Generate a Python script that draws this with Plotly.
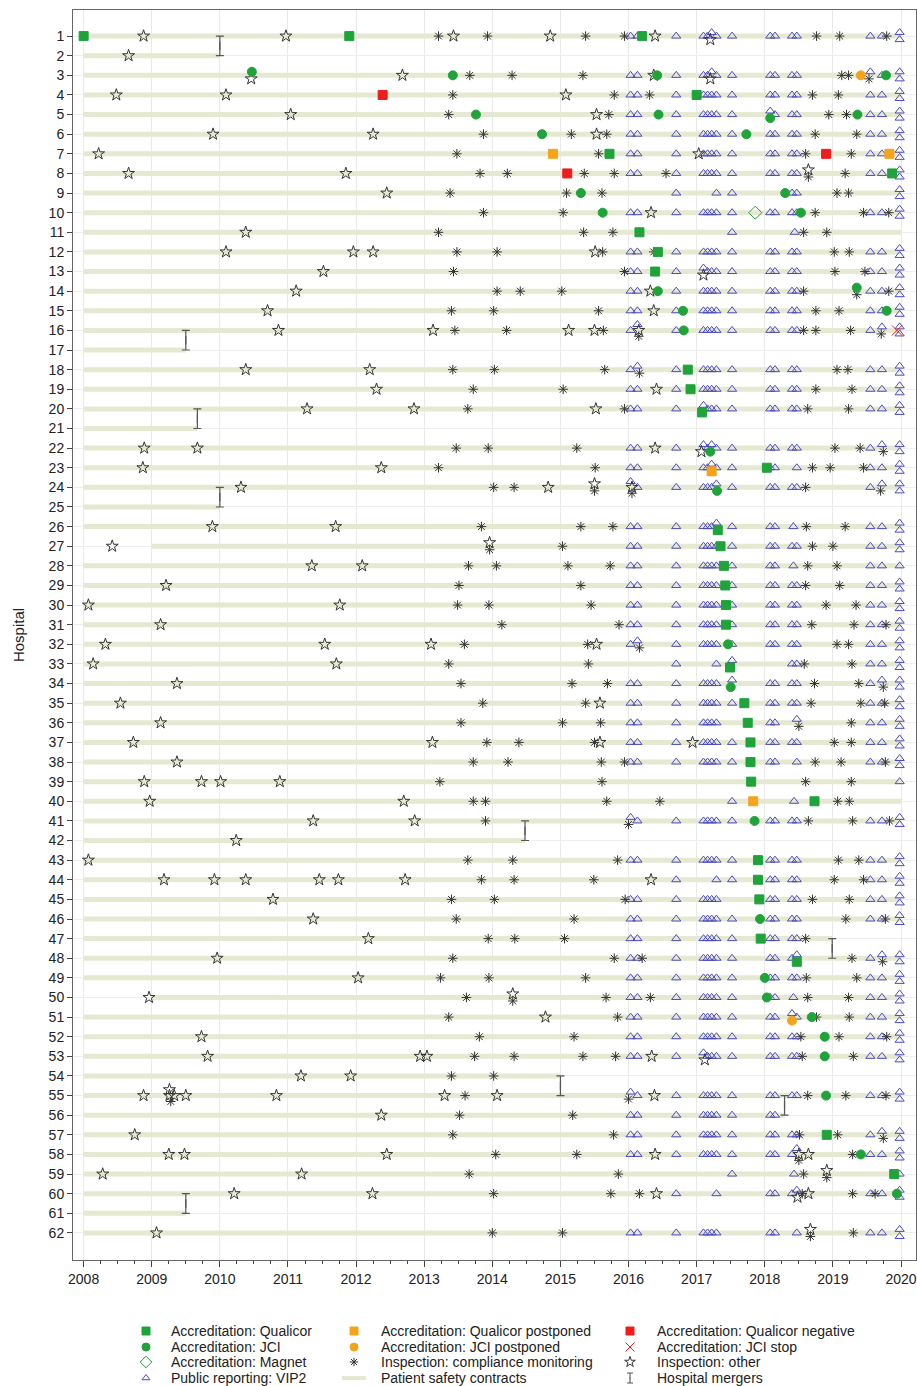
import plotly.graph_objects as go

# ---------------- data ----------------
hospitals = list(range(1, 63))
year_ticks = list(range(2008, 2021))

# accreditation events: (hospital, decimal year)
qualicor = [(1, 2008.0), (1, 2011.9), (1, 2016.2), (4, 2017.0), (7, 2015.72), (8, 2019.87),
            (11, 2016.16), (12, 2016.43), (13, 2016.39), (18, 2016.87), (19, 2016.91), (20, 2017.08),
            (23, 2018.03), (26, 2017.31), (27, 2017.35), (28, 2017.4), (29, 2017.42), (30, 2017.43),
            (31, 2017.43), (33, 2017.49), (35, 2017.7), (36, 2017.75), (37, 2017.79), (38, 2017.79),
            (39, 2017.8), (40, 2018.73), (43, 2017.9), (44, 2017.9), (45, 2017.92), (47, 2017.94),
            (48, 2018.47), (57, 2018.91), (59, 2019.9)]
qualicor_postponed = [(7, 2014.89), (7, 2019.83), (23, 2017.22), (40, 2017.83)]
qualicor_negative = [(4, 2012.39), (7, 2018.9), (8, 2015.1)]
jci = [(3, 2010.47), (3, 2013.42), (3, 2016.42), (3, 2019.78), (5, 2013.76), (5, 2016.44),
       (5, 2018.08), (5, 2019.36), (6, 2014.73), (6, 2017.73), (9, 2015.3), (9, 2018.3),
       (10, 2015.62), (10, 2018.53), (14, 2016.43), (14, 2019.35), (15, 2016.8), (15, 2019.79),
       (16, 2016.81), (22, 2017.2), (24, 2017.3), (32, 2017.46), (34, 2017.5), (41, 2017.85),
       (46, 2017.93), (49, 2018.0), (50, 2018.03), (51, 2018.69), (52, 2018.88), (53, 2018.88),
       (55, 2018.9), (58, 2019.41), (60, 2019.94)]
jci_postponed = [(3, 2019.41), (51, 2018.4)]
jci_stop = [(16, 2019.94)]
magnet = [(10, 2017.86)]

# inspections: hospital -> dates
inspection_other = [
    (1, [2008.88, 2010.97, 2013.43, 2014.85, 2016.39, 2017.2]), (2, [2008.66]),
    (3, [2010.46, 2012.68, 2016.37, 2017.2]), (4, [2008.48, 2010.09, 2015.08]),
    (5, [2011.04, 2015.53]), (6, [2009.9, 2012.25, 2015.53]), (7, [2008.22, 2017.03]),
    (8, [2008.66, 2011.85, 2018.64]), (9, [2012.45]), (10, [2016.33]), (11, [2010.38]),
    (12, [2010.09, 2011.96, 2012.25, 2015.51]), (13, [2011.52, 2017.1]), (14, [2011.12, 2016.32]),
    (15, [2010.7, 2016.37]), (16, [2010.86, 2013.13, 2015.12, 2015.5, 2016.15]),
    (18, [2010.38, 2012.2]), (19, [2012.3, 2016.41]), (20, [2011.28, 2012.85, 2015.52]),
    (22, [2008.89, 2009.67, 2016.39, 2017.07]), (23, [2008.87, 2012.37]),
    (24, [2010.31, 2014.82, 2015.5, 2016.05]), (26, [2009.89, 2011.7]), (27, [2008.42, 2013.96]),
    (28, [2011.35, 2012.09]), (29, [2009.21]), (30, [2008.07, 2011.76]), (31, [2009.13]),
    (32, [2008.32, 2011.54, 2013.1, 2015.53]), (33, [2008.14, 2011.71]), (34, [2009.37]),
    (35, [2008.54, 2015.58]), (36, [2009.13]), (37, [2008.73, 2013.12, 2015.58, 2016.94]),
    (38, [2009.37]), (39, [2008.89, 2009.73, 2010.01, 2010.88]), (40, [2008.97, 2012.7]),
    (41, [2011.37, 2012.86]), (42, [2010.24]), (43, [2008.07]),
    (44, [2009.18, 2009.92, 2010.38, 2011.46, 2011.74, 2012.72, 2016.33]), (45, [2010.78]),
    (46, [2011.37]), (47, [2012.18]), (48, [2009.96]), (49, [2012.03]), (50, [2008.96, 2014.3]),
    (51, [2014.78]), (52, [2009.73]), (53, [2009.82, 2012.94, 2013.04, 2016.34, 2017.12]),
    (54, [2011.19, 2011.92]),
    (55, [2008.88, 2009.26, 2009.26, 2009.33, 2009.5, 2010.83, 2013.3, 2014.07, 2016.38]),
    (56, [2012.37]), (57, [2008.75]), (58, [2009.25, 2009.48, 2012.45, 2016.39, 2018.5, 2018.64]),
    (59, [2008.28, 2011.2, 2018.91]), (60, [2010.21, 2012.24, 2016.41, 2018.48, 2018.64]),
    (62, [2009.07, 2018.67]),
]
inspection_compliance = [
    (1, [2013.21, 2013.93, 2015.37, 2015.94, 2018.76, 2019.1, 2019.79]),
    (3, [2013.67, 2014.29, 2015.33, 2019.13, 2019.23, 2019.53]),
    (4, [2013.42, 2015.79, 2016.31, 2018.7, 2019.08]), (5, [2013.36, 2015.71, 2018.94, 2019.2]),
    (6, [2013.87, 2015.16, 2015.68, 2018.74, 2019.35]), (7, [2013.48, 2015.56, 2018.6, 2019.27]),
    (8, [2013.82, 2014.22, 2015.35, 2015.79, 2016.55, 2018.64, 2019.18]),
    (9, [2013.38, 2015.09, 2015.61, 2019.06, 2019.23]),
    (10, [2013.87, 2015.04, 2018.74, 2019.45, 2019.82]),
    (11, [2013.21, 2015.34, 2015.77, 2018.57, 2018.91]),
    (12, [2013.48, 2014.07, 2015.62, 2016.37, 2019.02, 2019.24]),
    (13, [2013.43, 2015.94, 2019.03, 2019.47]),
    (14, [2014.07, 2014.41, 2015.02, 2018.57, 2019.35, 2019.82]),
    (15, [2013.4, 2014.02, 2015.56, 2018.75, 2019.09]),
    (16, [2013.45, 2014.21, 2015.63, 2016.15, 2018.57, 2018.75, 2019.26, 2019.71]),
    (18, [2013.42, 2014.03, 2015.65, 2016.16, 2019.06, 2019.22]),
    (19, [2013.72, 2015.04, 2018.75, 2019.28]), (20, [2013.64, 2015.94, 2018.63, 2019.23]),
    (22, [2013.47, 2013.94, 2015.24, 2019.03, 2019.4, 2019.74]),
    (23, [2013.21, 2015.51, 2018.7, 2018.96, 2019.45]),
    (24, [2014.02, 2014.32, 2015.5, 2016.05, 2018.6, 2019.7]),
    (26, [2013.84, 2015.3, 2015.77, 2018.61, 2019.18]), (27, [2013.96, 2015.03, 2018.7, 2019.0]),
    (28, [2013.65, 2014.06, 2015.11, 2015.73, 2018.63, 2019.06]),
    (29, [2013.51, 2015.3, 2018.6, 2019.1]), (30, [2013.49, 2013.95, 2015.45, 2018.9, 2019.34]),
    (31, [2014.14, 2015.86, 2018.69, 2019.31, 2019.78]),
    (32, [2013.59, 2015.4, 2016.16, 2019.06, 2019.23]), (33, [2013.36, 2015.41, 2018.58, 2019.28]),
    (34, [2013.54, 2015.17, 2015.69, 2018.73, 2019.38, 2019.74]),
    (35, [2013.86, 2015.37, 2018.68, 2019.41, 2019.76]),
    (36, [2013.54, 2015.03, 2015.59, 2018.5, 2019.27]),
    (37, [2013.92, 2014.39, 2015.5, 2019.02, 2019.27]),
    (38, [2013.72, 2014.23, 2015.6, 2015.94, 2018.74, 2019.12, 2019.77]),
    (39, [2013.23, 2015.61, 2018.6, 2019.27]),
    (40, [2013.72, 2013.9, 2015.68, 2016.46, 2019.07, 2019.24]),
    (41, [2013.9, 2016.0, 2018.64, 2019.29, 2019.83]),
    (43, [2013.64, 2014.3, 2015.84, 2019.08, 2019.38]),
    (44, [2013.84, 2014.32, 2015.49, 2019.02, 2019.45]),
    (45, [2013.4, 2014.03, 2015.95, 2018.7, 2019.24]), (46, [2013.47, 2015.2, 2019.19, 2019.77]),
    (47, [2013.94, 2014.33, 2015.06, 2018.6]), (48, [2013.42, 2015.79, 2016.2, 2019.28, 2019.73]),
    (49, [2013.24, 2013.95, 2015.37, 2018.61, 2019.35]),
    (50, [2013.62, 2014.3, 2015.67, 2016.32, 2018.63, 2019.23]),
    (51, [2013.36, 2015.84, 2018.76, 2019.24]), (52, [2013.81, 2015.2, 2018.53, 2019.09, 2019.79]),
    (53, [2013.74, 2014.32, 2015.33, 2015.81, 2018.55, 2019.3]), (54, [2013.4, 2014.02]),
    (55, [2009.28, 2013.6, 2016.0, 2018.63, 2019.19, 2019.78]), (56, [2013.52, 2015.18]),
    (57, [2013.42, 2015.78, 2018.51, 2019.07, 2019.74]), (58, [2014.05, 2015.24, 2018.5, 2019.29]),
    (59, [2013.66, 2015.85, 2018.57, 2018.91]),
    (60, [2014.02, 2015.74, 2016.16, 2018.55, 2019.29, 2019.62]),
    (62, [2014.0, 2015.03, 2018.67, 2019.3]),
]

# public reporting (VIP2) release dates; most hospitals share the full set
vip2_full = [2016.03, 2016.13, 2016.70, 2017.10, 2017.16, 2017.22, 2017.29, 2017.52,
             2018.08, 2018.15, 2018.40, 2018.47, 2019.55, 2019.72, 2019.98, 2019.98]
vip2_none = [2, 17, 21, 25, 42, 54, 61]
vip2_partial = [
    (9, [2016.70, 2017.29, 2017.52, 2018.40, 2018.47, 2019.98, 2019.98]),
    (11, [2017.52, 2018.44]),
    (23, [2016.03, 2016.13, 2016.70, 2017.10, 2017.16, 2017.22, 2017.29, 2017.52, 2018.08, 2018.15, 2018.47, 2019.55, 2019.72, 2019.98, 2019.98]),
    (26, [2016.03, 2016.13, 2016.70, 2017.10, 2017.16, 2017.22, 2017.29, 2017.52, 2018.08, 2018.15, 2018.42, 2019.55, 2019.72, 2019.98, 2019.98]),
    (28, [2016.03, 2016.13, 2016.70, 2017.10, 2017.16, 2017.22, 2017.29, 2017.52, 2018.08, 2018.15, 2018.42, 2019.55, 2019.72, 2019.98]),
    (33, [2016.70, 2017.29, 2017.52, 2018.40, 2018.47, 2019.55, 2019.72, 2019.98, 2019.98]),
    (36, [2016.03, 2016.13, 2016.70, 2017.10, 2017.16, 2017.22, 2017.29, 2018.08, 2018.15, 2018.47, 2019.55, 2019.72, 2019.98, 2019.98]),
    (38, [2016.03, 2016.13, 2016.70, 2017.10, 2017.16, 2017.22, 2017.29, 2017.52, 2018.08, 2018.15, 2018.47, 2019.55, 2019.72, 2019.98, 2019.98]),
    (39, [2019.98]),
    (40, [2017.52, 2018.43]),
    (44, [2016.70, 2017.29, 2017.52, 2018.08, 2018.15, 2018.40, 2018.47, 2019.55, 2019.72, 2019.98, 2019.98]),
    (45, [2016.03, 2016.13, 2016.70, 2017.10, 2017.16, 2017.22, 2017.29, 2018.08, 2018.15, 2018.40, 2018.47, 2019.55, 2019.72, 2019.98, 2019.98]),
    (47, [2016.03, 2016.13, 2016.70, 2017.10, 2017.16, 2017.22, 2017.29, 2017.52, 2018.08, 2018.15, 2018.40, 2018.47]),
    (50, [2016.03, 2016.13, 2016.70, 2017.10, 2017.16, 2017.22, 2017.29, 2017.52, 2018.08, 2018.15, 2018.42, 2019.55, 2019.72, 2019.98, 2019.98]),
    (56, [2016.03, 2016.13, 2016.70, 2017.10, 2017.16, 2017.22, 2017.29, 2017.52, 2018.08, 2018.15]),
    (59, [2017.52, 2018.43, 2019.98]),
    (60, [2016.70, 2017.29, 2018.08, 2018.15, 2018.40, 2018.47, 2019.55, 2019.72, 2019.98, 2019.98]),
    (62, [2016.03, 2016.13, 2016.70, 2017.10, 2017.16, 2017.22, 2017.29, 2018.08, 2018.15, 2018.47, 2019.55, 2019.72, 2019.98, 2019.98]),
]

# hospital mergers: (hospital above, hospital below, date); the absorbed hospital's contract line ends there
mergers = [(1, 2, 2010.0), (16, 17, 2009.5), (20, 21, 2009.67), (24, 25, 2010.0), (41, 42, 2014.48),
           (47, 48, 2018.99), (54, 55, 2015.0), (55, 56, 2018.29), (60, 61, 2009.5)]
merger_absorbed = [2, 17, 21, 25, 42, 47, 54, 56, 61]

# patient safety contracts period
contract_start_default = 2008.0
contract_end_default = 2020.0
contract_late_start = [(27, 2009.0), (50, 2009.0)]

# ---------------- build events with overlap stagger ----------------
events = []  # (hospital, date, kind)
for h, d in qualicor: events.append((h, d, "qualicor"))
for h, d in qualicor_postponed: events.append((h, d, "qualicor_postponed"))
for h, d in qualicor_negative: events.append((h, d, "qualicor_negative"))
for h, d in jci: events.append((h, d, "jci"))
for h, d in jci_postponed: events.append((h, d, "jci_postponed"))
for h, d in jci_stop: events.append((h, d, "jci_stop"))
for h, d in magnet: events.append((h, d, "magnet"))
for h, ds in inspection_other:
    for d in ds: events.append((h, d, "other"))
for h, ds in inspection_compliance:
    for d in ds: events.append((h, d, "compliance"))
partial = dict(vip2_partial)
for h in hospitals:
    if h in vip2_none:
        continue
    for d in partial.get(h, vip2_full):
        events.append((h, d, "vip2"))

priority = {"vip2": 0, "jci_stop": 1, "qualicor": 2, "qualicor_postponed": 2, "qualicor_negative": 2,
            "jci": 2, "jci_postponed": 2, "magnet": 2, "other": 3, "compliance": 4}


def stagger_offsets(n):
    if n == 1:
        return [0.0]
    if n == 2:
        return [-0.18, 0.18]
    return [-0.3 + 0.6 * i / (n - 1) for i in range(n)]


placed = {k: ([], []) for k in priority}
for h in hospitals:
    evs = sorted([e for e in events if e[0] == h], key=lambda e: (e[1], priority[e[2]]))
    groups, cur = [], []
    for e in evs:
        if cur and e[1] - cur[0][1] > 0.035:
            groups.append(cur)
            cur = []
        cur.append(e)
    if cur:
        groups.append(cur)
    for g in groups:
        g = sorted(g, key=lambda e: priority[e[2]])
        for e, o in zip(g, stagger_offsets(len(g))):
            placed[e[2]][0].append(e[1])
            placed[e[2]][1].append(e[0] + o)

# ---------------- figure ----------------
W, H = 917, 1386
M_L, M_R, M_T = 73, 1, 10
PLOT_BOTTOM = 1260                      # pixel row of the x axis
paper_h = H - M_T
main_dom_low = (H - PLOT_BOTTOM) / paper_h

fig = go.Figure()

# contract lines
late = dict(contract_late_start)
ends = {}
for a, b, d in mergers:
    ends[a if a in merger_absorbed else b] = d
cx, cy = [], []
for h in hospitals:
    cx += [late.get(h, contract_start_default), ends.get(h, contract_end_default), None]
    cy += [h, h, None]
CONTRACT_COLOR = "#e6e9d2"
fig.add_trace(go.Scatter(x=cx, y=cy, mode="lines", line=dict(color=CONTRACT_COLOR, width=5),
                         name="Patient safety contracts", showlegend=False, hoverinfo="skip"))

# mergers
MERGE_COLOR = "#555555"
mx = [d for a, b, d in mergers]
my = [(a + b) / 2 for a, b, d in mergers]
mh = [(b - a) / 2 for a, b, d in mergers]
fig.add_trace(go.Scatter(x=mx, y=my, mode="markers",
                         marker=dict(symbol="line-ns-open", size=6, color=MERGE_COLOR,
                                     line=dict(width=1.2, color=MERGE_COLOR)),
                         error_y=dict(type="data", array=mh, symmetric=True, color=MERGE_COLOR,
                                      thickness=1.2, width=4),
                         name="Hospital mergers", showlegend=False))

styles = {
    "vip2": ("Public reporting: VIP2", "triangle-up-open", 8, "#4a4ac0"),
    "compliance": ("Inspection: compliance monitoring", "asterisk-open", 8, "#333333"),
    "other": ("Inspection: other", "star-open", 9, "#333333"),
    "magnet": ("Accreditation: Magnet", "diamond-open", 10, "#1fa33a"),
    "qualicor": ("Accreditation: Qualicor", "square", 9, "#1fa33a"),
    "jci": ("Accreditation: JCI", "circle", 9, "#1fa33a"),
    "qualicor_postponed": ("Accreditation: Qualicor postponed", "square", 9, "#f5a31b"),
    "jci_postponed": ("Accreditation: JCI postponed", "circle", 9, "#f5a31b"),
    "qualicor_negative": ("Accreditation: Qualicor negative", "square", 9, "#ee1c1c"),
    "jci_stop": ("Accreditation: JCI stop", "x-thin-open", 10, "#ee1c1c"),
}
for key in ["vip2", "compliance", "other", "magnet", "qualicor", "jci", "qualicor_postponed",
            "jci_postponed", "qualicor_negative", "jci_stop"]:
    name, sym, size, col = styles[key]
    xs, ys = placed[key]
    fig.add_trace(go.Scatter(x=xs, y=ys, mode="markers", name=name, showlegend=False,
                             marker=dict(symbol=sym, size=size, color=col,
                                         line=dict(width=1, color=col))))

# ---------------- legend (3 columns x 4 rows, drawn on a pixel-scaled helper axis) ----------------
legend_layout = [
    ["qualicor", "qualicor_postponed", "qualicor_negative"],
    ["jci", "jci_postponed", "jci_stop"],
    ["magnet", "compliance", "other"],
    ["vip2", "contracts", "mergers"],
]
leg_col_sym_x = [146, 354, 630]
leg_col_txt_x = [169, 379, 655]
leg_row_y = [1331, 1347, 1362, 1378]
annotations = []
for r, row in enumerate(legend_layout):
    for c, key in enumerate(row):
        sx, ty = leg_col_sym_x[c], leg_row_y[r]
        if key == "contracts":
            name = "Patient safety contracts"
            fig.add_trace(go.Scatter(x=[sx - 12, sx + 12], y=[ty, ty], mode="lines", xaxis="x2", yaxis="y2",
                                     line=dict(color=CONTRACT_COLOR, width=4), showlegend=False,
                                     hoverinfo="skip"))
        elif key == "mergers":
            name = "Hospital mergers"
            fig.add_trace(go.Scatter(x=[sx], y=[ty], mode="markers", xaxis="x2", yaxis="y2",
                                     marker=dict(size=1, color=MERGE_COLOR),
                                     error_y=dict(type="data", array=[5], symmetric=True,
                                                  color=MERGE_COLOR, thickness=1.1, width=3),
                                     showlegend=False, hoverinfo="skip"))
        else:
            name, sym, size, col = styles[key]
            fig.add_trace(go.Scatter(x=[sx], y=[ty], mode="markers", xaxis="x2", yaxis="y2",
                                     marker=dict(symbol=sym, size=size - 1, color=col,
                                                 line=dict(width=1, color=col)),
                                     showlegend=False, hoverinfo="skip"))
        annotations.append(dict(x=leg_col_txt_x[c], y=ty, xref="x2", yref="y2", text=name,
                                showarrow=False, xanchor="left", yanchor="middle",
                                font=dict(size=14, color="#222")))

fig.update_layout(
    width=W, height=H,
    margin=dict(l=M_L, r=M_R, t=M_T, b=0, autoexpand=False),
    paper_bgcolor="white", plot_bgcolor="white",
    font=dict(family="Liberation Sans, Arial, sans-serif", color="#222"),
    showlegend=False,
    annotations=annotations,
    xaxis=dict(range=[2007.844, 2020.22], tickvals=year_ticks, ticktext=[str(y) for y in year_ticks],
               showgrid=True, gridcolor="#e9e9e9", gridwidth=1, zeroline=False, automargin=False,
               ticks="outside", ticklen=6, tickcolor="#444", tickfont=dict(size=14),
               minor=dict(dtick=0.25, tick0=2008, ticks="outside", ticklen=3, tickcolor="#444", showgrid=False),
               showline=True, linecolor="#666", linewidth=1, mirror=True, anchor="y"),
    yaxis=dict(domain=[main_dom_low, 1], range=[63.38, -0.33], tickvals=hospitals,
               ticktext=[str(h) for h in hospitals],
               showgrid=True, gridcolor="#eeeeee", gridwidth=1, zeroline=False, automargin=False,
               ticks="outside", ticklen=5, tickcolor="#444", tickfont=dict(size=14),
               showline=True, linecolor="#666", linewidth=1, mirror=True, anchor="x",
               title=dict(text="Hospital", font=dict(size=15), standoff=20)),
    xaxis2=dict(domain=[0, 1], range=[M_L, W - M_R], visible=False, anchor="y2", fixedrange=True),
    yaxis2=dict(domain=[0, main_dom_low], range=[H, PLOT_BOTTOM], visible=False, anchor="x2",
                fixedrange=True),
)

fig.write_html("out.html", config={"displayModeBar": False},
               post_script="document.body.style.margin='0';document.body.style.overflow='hidden';")
